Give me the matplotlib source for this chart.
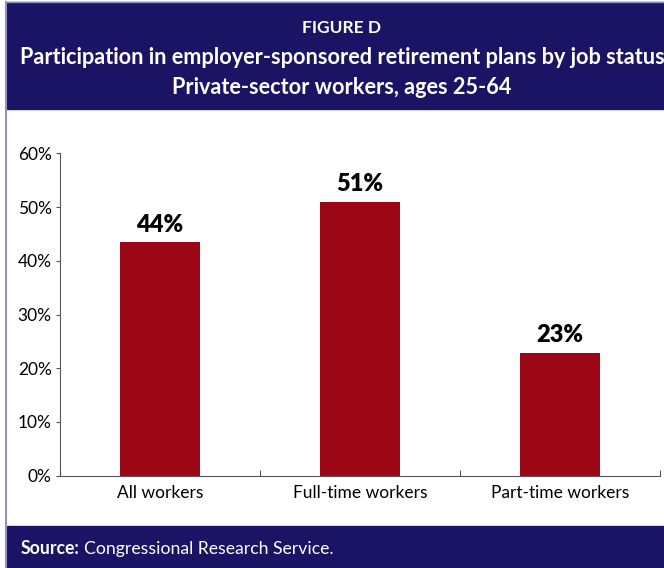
import matplotlib.pyplot as plt
from matplotlib.patches import Rectangle

categories = ['All workers', 'Full-time workers', 'Part-time workers']
values = [43.5, 51.0, 22.9]
bar_labels = ['44%', '51%', '23%']
yticks = [0, 10, 20, 30, 40, 50, 60]

navy = '#1b1464'
bar_color = '#9c0716'

plt.rcParams['font.family'] = ['Lato', 'DejaVu Sans']

fig = plt.figure(figsize=(6.64, 5.68), dpi=100)

# header and footer bands
fig.patches.append(Rectangle((7 / 664, 1 - 109 / 568), 1, 107 / 568,
                             transform=fig.transFigure, color=navy, zorder=0))
fig.patches.append(Rectangle((7 / 664, 0), 1, 42 / 568,
                             transform=fig.transFigure, color=navy, zorder=0))
# thin frame on the left
fig.add_artist(plt.Line2D([5.5 / 664, 5.5 / 664], [0, 1 - 2 / 568],
                          transform=fig.transFigure, color='#9290c4', lw=1.5))
fig.add_artist(plt.Line2D([5.5 / 664, 1], [1 - 2 / 568, 1 - 2 / 568],
                          transform=fig.transFigure, color='#9290c4', lw=1.0))

cx = 342 / 664
fig.text(cx, 1 - 28 / 568, 'FIGURE D', color='white', fontsize=12.5,
         fontweight='bold', ha='center', va='center')
fig.text(cx, 1 - 58 / 568,
         'Participation in employer-sponsored retirement plans by job status',
         color='white', fontsize=15.6, fontweight='bold', ha='center', va='center')
fig.text(cx, 1 - 88 / 568, 'Private-sector workers, ages 25-64', color='white',
         fontsize=15.6, fontweight='bold', ha='center', va='center')

fig.text(21 / 664, 1 - 549 / 568, 'Source:', color='white', fontsize=12.7,
         fontweight='bold', ha='left', va='center')
fig.text(84 / 664, 1 - 549 / 568, 'Congressional Research Service.', color='white',
         fontsize=12.7, ha='left', va='center')

ax = fig.add_axes([60 / 664, 1 - 475.7 / 568, 600 / 664, (475.7 - 153.3) / 568])
x = range(len(categories))
ax.bar(x, values, width=0.4, color=bar_color, zorder=2)
for i, (v, lab) in enumerate(zip(values, bar_labels)):
    ax.text(i, v + 1.2, lab, ha='center', va='bottom', fontsize=17,
            fontweight='heavy', color='black')

ax.set_xlim(-0.5, 2.5)
ax.set_ylim(0, 60)
ax.set_yticks(yticks)
ax.set_yticklabels([f'{t}%' for t in yticks], fontsize=12.5)
ax.set_xticks([-0.5, 0.5, 1.5, 2.5])
ax.set_xticklabels([])
ax.set_xticks(list(x), minor=True)
ax.set_xticklabels(categories, minor=True, fontsize=12.5)
ax.tick_params(axis='x', which='minor', length=0, pad=7)
ax.tick_params(axis='x', which='major', length=4, color='#555555', direction='in')
ax.tick_params(axis='y', length=3, color='#555555', pad=3)
for s in ['top', 'right']:
    ax.spines[s].set_visible(False)
for s in ['left', 'bottom']:
    ax.spines[s].set_color('#555555')
    ax.spines[s].set_linewidth(0.8)

fig.savefig('out.png', dpi=100)
